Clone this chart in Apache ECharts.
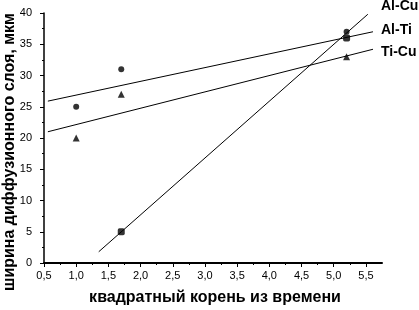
<!DOCTYPE html>
<html>
<head>
<meta charset="UTF-8">
<title>ширина диффузионного слоя</title>
<script src="https://cdn.jsdelivr.net/npm/echarts@6/dist/echarts.min.js"></script>
<style>
  html, body { margin: 0; padding: 0; background: #fff; }
</style>
</head>
<body>
<div id="main" style="width: 419px;height:310px;"></div>
<script type="text/javascript">
// точки измерений
var alcuX = [1.7, 5.2];
var alcuY = [5, 36];
var altiX = [1.0, 1.7, 5.2];
var altiY = [25, 31, 37];
var ticuX = [1.0, 1.7, 5.2];
var ticuY = [20, 27, 33];

// концы прямых
var alcuLineX = [1.35, 5.53];
var alcuLineY = [1.8, 39.8];
var altiLineX = [0.56, 5.61];
var altiLineY = [25.9, 37.0];
var ticuLineX = [0.56, 5.61];
var ticuLineY = [21.0, 34.2];

var xTicks = [0.5, 1.0, 1.5, 2.0, 2.5, 3.0, 3.5, 4.0, 4.5, 5.0, 5.5];
var seriesNames = ['Al-Cu', 'Al-Ti', 'Ti-Cu'];

function pairs(xs, ys) {
    var out = [];
    for (var i = 0; i < xs.length; i++) out.push([xs[i], ys[i]]);
    return out;
}

var myChart = echarts.init(document.getElementById('main'));
var font = 'Arial, "Liberation Sans", sans-serif';

var option = {
    animation: false,
    backgroundColor: '#fff',
    grid: { left: 44, right: 37, top: 13, bottom: 47 },
    xAxis: {
        type: 'value',
        min: 0.5,
        max: 5.75,
        interval: 0.5,
        splitLine: { show: false },
        axisLine: { onZero: false, lineStyle: { color: '#000', width: 2 } },
        axisTick: { show: true, inside: false, length: 4, customValues: xTicks, lineStyle: { color: '#000', width: 1 } },
        minorTick: { show: true, splitNumber: 2, length: 2, lineStyle: { color: '#000' } },
        axisLabel: {
            customValues: xTicks,
            color: '#000', fontSize: 11, fontFamily: font, margin: 7,
            formatter: function (v) { return v.toFixed(1).replace('.', ','); }
        }
    },
    yAxis: {
        type: 'value',
        min: 0,
        max: 40,
        interval: 5,
        splitLine: { show: false },
        axisLine: { show: true, lineStyle: { color: '#000', width: 1.5 } },
        axisTick: { show: true, inside: false, length: 4, lineStyle: { color: '#000', width: 1 } },
        minorTick: { show: true, splitNumber: 2, length: 2, lineStyle: { color: '#000' } },
        axisLabel: { color: '#000', fontSize: 11, fontFamily: font, margin: 12 }
    },
    graphic: [
        {
            type: 'text', x: 10, y: 152, rotation: Math.PI / 2,
            style: { text: 'ширина диффузионного слоя, мкм', fill: '#000', font: 'bold 16px ' + font, textAlign: 'center', textVerticalAlign: 'middle' }
        },
        {
            type: 'text', x: 215, y: 298,
            style: { text: 'квадратный корень из времени', fill: '#000', font: 'bold 16px ' + font, textAlign: 'center', textVerticalAlign: 'middle' }
        },
        { type: 'text', x: 381, y: 6, style: { text: seriesNames[0], fill: '#000', font: 'bold 14px ' + font, textAlign: 'left', textVerticalAlign: 'middle' } },
        { type: 'text', x: 381, y: 30, style: { text: seriesNames[1], fill: '#000', font: 'bold 14px ' + font, textAlign: 'left', textVerticalAlign: 'middle' } },
        { type: 'text', x: 381, y: 52, style: { text: seriesNames[2], fill: '#000', font: 'bold 14px ' + font, textAlign: 'left', textVerticalAlign: 'middle' } }
    ],
    series: [
        { name: 'Al-Cu fit', type: 'line', data: pairs(alcuLineX, alcuLineY), symbol: 'none', lineStyle: { color: '#000', width: 1 }, silent: true },
        { name: 'Al-Ti fit', type: 'line', data: pairs(altiLineX, altiLineY), symbol: 'none', lineStyle: { color: '#000', width: 1 }, silent: true },
        { name: 'Ti-Cu fit', type: 'line', data: pairs(ticuLineX, ticuLineY), symbol: 'none', lineStyle: { color: '#000', width: 1 }, silent: true },
        { name: seriesNames[0], type: 'scatter', data: pairs(alcuX, alcuY), symbol: 'roundRect', symbolSize: 7, itemStyle: { color: '#000' } },
        { name: seriesNames[1], type: 'scatter', data: pairs(altiX, altiY), symbol: 'circle', symbolSize: 6, itemStyle: { color: '#000' } },
        { name: seriesNames[2], type: 'scatter', data: pairs(ticuX, ticuY), symbol: 'triangle', symbolSize: 7, itemStyle: { color: '#000' } }
    ]
};
myChart.setOption(option);
</script>
</body>
</html>
